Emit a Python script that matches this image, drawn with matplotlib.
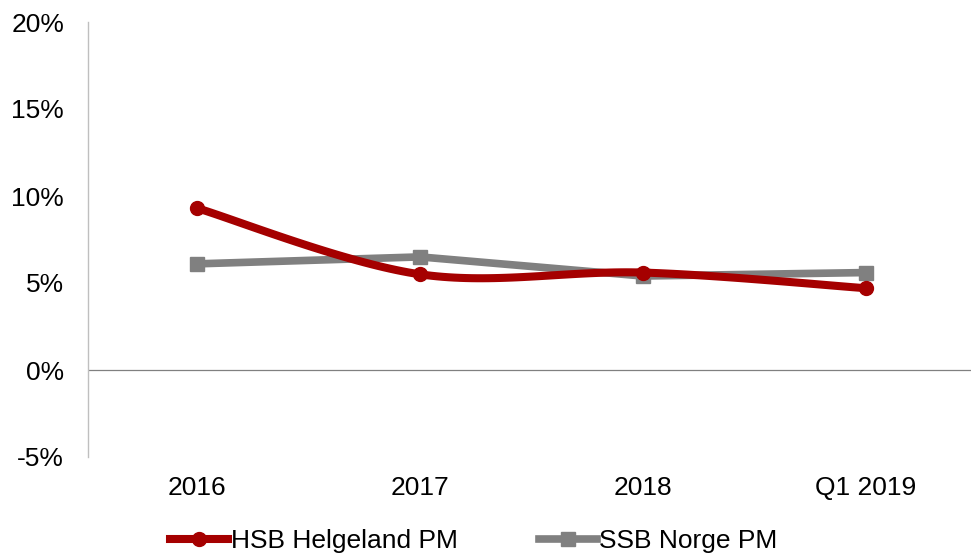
import numpy as np
import matplotlib
matplotlib.use("Agg")
import matplotlib.pyplot as plt
from matplotlib.lines import Line2D

categories = ["2016", "2017", "2018", "Q1 2019"]
hsb = [9.3, 5.5, 5.6, 4.7]
ssb = [6.1, 6.5, 5.4, 5.6]
yticks = [-5, 0, 5, 10, 15, 20]

RED = "#A50000"
GRAY = "#808080"
FS = 19

plt.rcParams["font.family"] = ["Liberation Sans", "DejaVu Sans"]

def smooth(xs, ys, n=40):
    pts = np.column_stack([xs, ys]).astype(float)
    out = []
    m = len(pts)
    for i in range(m - 1):
        p0 = pts[i - 1] if i > 0 else pts[i]
        p1 = pts[i]
        p2 = pts[i + 1]
        p3 = pts[i + 2] if i + 2 < m else pts[i + 1]
        c1 = p1 + (p2 - p0) / 6.0
        c2 = p2 - (p3 - p1) / 6.0
        t = np.linspace(0, 1, n)[:, None]
        seg = ((1 - t) ** 3) * p1 + 3 * ((1 - t) ** 2) * t * c1 + 3 * (1 - t) * t ** 2 * c2 + t ** 3 * p2
        out.append(seg if i == 0 else seg[1:])
    out = np.vstack(out)
    return out[:, 0], out[:, 1]

fig = plt.figure(figsize=(9.71, 5.56), dpi=100)
ax = fig.add_axes([88 / 971, 1 - 457 / 556, (971 - 88) / 971, (457 - 22) / 556])

x = np.arange(len(categories))
ax.plot(x, ssb, color=GRAY, lw=5.5, marker="s", ms=9.5, mfc=GRAY, mec=GRAY, zorder=3,
        solid_capstyle="butt")
sx, sy = smooth(x, hsb)
ax.plot(sx, sy, color=RED, lw=5.8, zorder=4, solid_capstyle="round")
ax.plot(x, hsb, ls="none", marker="o", ms=10, color=RED, zorder=5)

ax.set_xlim(-0.489, 3 + (971 - 866) / 223)
ax.set_ylim(-5, 20)
ax.axhline(0, color=GRAY, lw=0.9, zorder=1)

ax.set_xticks(x)
ax.set_xticklabels(categories, fontsize=FS)
ax.set_yticks(yticks)
ax.set_yticklabels([f"{v}%" for v in yticks], fontsize=FS)
ax.tick_params(axis="both", length=0)
ax.tick_params(axis="y", pad=17.2)
ax.tick_params(axis="x", pad=14)
for s in ["top", "right", "bottom"]:
    ax.spines[s].set_visible(False)
ax.spines["left"].set_color("#BFBFBF")
ax.spines["left"].set_linewidth(1.0)

handles = [
    Line2D([], [], color=RED, lw=5.8, marker="o", ms=10),
    Line2D([], [], color=GRAY, lw=5.5, marker="s", ms=9.5),
]
fig.legend(handles, ["HSB Helgeland PM", "SSB Norge PM"], loc="center",
           bbox_to_anchor=(474 / 971, 1 - 541 / 556), ncol=2, frameon=False,
           fontsize=FS, handlelength=2.2, handletextpad=0.08, columnspacing=3.1)

fig.savefig("out.png", dpi=100)
